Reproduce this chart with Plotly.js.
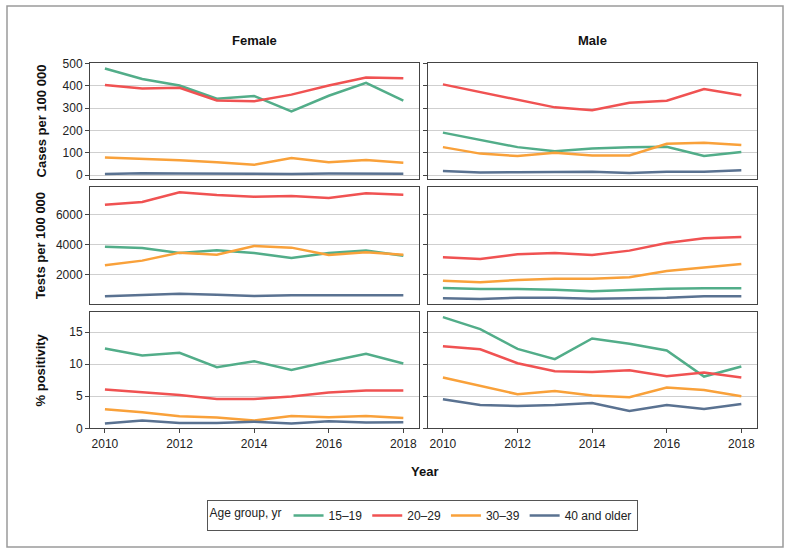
<!DOCTYPE html>
<html>
<head>
<meta charset="utf-8">
<script src="https://cdn.plot.ly/plotly-3.0.1.min.js"></script>
<style>html,body{margin:0;padding:0;background:#fff;}#chart{width:791px;height:554px;}</style>
</head>
<body>
<div id="chart"></div>
<script>
// ---- Data ----
const years = [2010, 2011, 2012, 2013, 2014, 2015, 2016, 2017, 2018];
const ageGroups = ["15\u201319", "20\u201329", "30\u201339", "40 and older"];
const sexes = ["Female", "Male"];
const measures = ["Cases per 100 000", "Tests per 100 000", "% positivity"];
const xTickVals = [2010, 2012, 2014, 2016, 2018];

// Cases per 100 000
const casesFemale15 = [477, 430, 401, 342, 354, 285, 355, 413, 333];
const casesFemale20 = [403, 388, 391, 334, 330, 360, 401, 437, 433];
const casesFemale30 = [79, 73, 66, 57, 46, 76, 57, 67, 55];
const casesFemale40 = [5, 8, 7, 6, 6, 5, 7, 6, 6];
const casesMale15 = [190, 158, 125, 107, 119, 125, 127, 85, 103];
const casesMale20 = [406, 372, 336, 303, 290, 324, 333, 385, 357];
const casesMale30 = [125, 96, 85, 100, 87, 88, 140, 145, 134];
const casesMale40 = [18, 12, 13, 15, 15, 9, 15, 15, 21];

// Tests per 100 000
const testsFemale15 = [3844, 3756, 3422, 3600, 3422, 3089, 3422, 3578, 3244];
const testsFemale20 = [6644, 6822, 7467, 7289, 7178, 7222, 7089, 7400, 7311];
const testsFemale30 = [2600, 2911, 3444, 3311, 3889, 3778, 3289, 3467, 3311];
const testsFemale40 = [533, 622, 711, 644, 556, 600, 600, 644, 600];
const testsMale15 = [1089, 1022, 1022, 978, 867, 956, 1044, 1067, 1067];
const testsMale20 = [3133, 3022, 3333, 3422, 3289, 3578, 4089, 4400, 4489];
const testsMale30 = [1578, 1467, 1622, 1711, 1711, 1800, 2222, 2467, 2689];
const testsMale40 = [400, 356, 444, 444, 378, 400, 444, 533, 533];

// % positivity
const posFemale15 = [12.45, 11.35, 11.77, 9.53, 10.47, 9.11, 10.42, 11.61, 10.1];
const posFemale20 = [6.04, 5.68, 5.21, 4.58, 4.58, 4.95, 5.57, 5.89, 5.89];
const posFemale30 = [2.97, 2.5, 1.88, 1.67, 1.2, 1.93, 1.72, 1.93, 1.61];
const posFemale40 = [0.73, 1.2, 0.83, 0.83, 1.04, 0.73, 1.09, 0.89, 0.94];
const posMale15 = [17.34, 15.47, 12.4, 10.78, 14.01, 13.18, 12.14, 8.07, 9.64];
const posMale20 = [12.81, 12.34, 10.16, 8.91, 8.8, 9.06, 8.13, 8.7, 7.92];
const posMale30 = [7.92, 6.61, 5.31, 5.83, 5.1, 4.84, 6.35, 5.99, 5.0];
const posMale40 = [4.53, 3.65, 3.49, 3.65, 3.96, 2.71, 3.65, 3.02, 3.8];

const casesTicks = [0, 100, 200, 300, 400, 500];
const testsTicks = [2000, 4000, 6000];
const posTicks = [0, 5, 10, 15];

// ---- Styling ----
const colors = ["#52ad89", "#f05252", "#f9a13a", "#5a7291"];
const FONT = "Liberation Sans, Arial, Helvetica, sans-serif";

const panels = [
  [[casesFemale15, casesFemale20, casesFemale30, casesFemale40], "x", "y", true],
  [[casesMale15, casesMale20, casesMale30, casesMale40], "x2", "y2", false],
  [[testsFemale15, testsFemale20, testsFemale30, testsFemale40], "x3", "y3", false],
  [[testsMale15, testsMale20, testsMale30, testsMale40], "x4", "y4", false],
  [[posFemale15, posFemale20, posFemale30, posFemale40], "x5", "y5", false],
  [[posMale15, posMale20, posMale30, posMale40], "x6", "y6", false]
];

const traces = [];
panels.forEach(([series, xa, ya, leg]) => {
  series.forEach((vals, i) => {
    traces.push({
      type: "scatter", mode: "lines",
      x: years, y: vals,
      xaxis: xa, yaxis: ya,
      name: ageGroups[i],
      legendgroup: ageGroups[i],
      showlegend: leg,
      line: {color: colors[i], width: 2.5},
      hoverinfo: "x+y+name"
    });
  });
});

const W = 791, H = 554;
const px = (a, b) => [a / W, b / W];
const py = (top, bottom) => [1 - bottom / H, 1 - top / H];
const colDom = [px(90, 419), px(428, 757)];
const rowDom = [py(62.7, 179.3), py(187.3, 304), py(312.3, 428.3)];

const xRange = [2009.6, 2018.42];
const yRanges = [[-19, 503], [20, 7800], [0, 18.1]];
const yTicks = [casesTicks, testsTicks, posTicks];
const standoffs = [13, 7, 20];

const layout = {
  width: W, height: H,
  margin: {l: 0, r: 0, t: 0, b: 0},
  paper_bgcolor: "#ffffff",
  plot_bgcolor: "#ffffff",
  font: {family: FONT, size: 12, color: "#222"},
  showlegend: true,
  legend: {
    orientation: "h",
    x: 422 / W, xanchor: "center",
    y: 1 - 500 / H, yanchor: "top",
    title: {text: "Age group, yr", side: "left", font: {size: 12, color: "#222"}},
    font: {size: 12, color: "#222"},
    bordercolor: "#555", borderwidth: 1,
    bgcolor: "#ffffff",
    itemwidth: 30,
    tracegroupgap: 0
  },
  annotations: [
    {text: "<b>" + sexes[0] + "</b>", xref: "paper", yref: "paper", x: (90 + 419) / 2 / W, y: 1 - 40 / H,
     showarrow: false, font: {size: 13, color: "#111"}, xanchor: "center", yanchor: "middle"},
    {text: "<b>" + sexes[1] + "</b>", xref: "paper", yref: "paper", x: (428 + 757) / 2 / W, y: 1 - 40 / H,
     showarrow: false, font: {size: 13, color: "#111"}, xanchor: "center", yanchor: "middle"},
    {text: "<b>Year</b>", xref: "paper", yref: "paper", x: 424 / W, y: 1 - 471 / H,
     showarrow: false, font: {size: 13, color: "#111"}, xanchor: "center", yanchor: "middle"}
  ],
  shapes: [
    {type: "rect", xref: "paper", yref: "paper", x0: 7 / W, x1: 783 / W, y0: 1 - 547 / H, y1: 1 - 6 / H,
     line: {color: "#9a9a9a", width: 1.5}, fillcolor: "rgba(0,0,0,0)", layer: "below"}
  ]
};

for (let r = 0; r < 3; r++) {
  for (let c = 0; c < 2; c++) {
    const idx = r * 2 + c + 1;
    const xk = idx === 1 ? "xaxis" : "xaxis" + idx;
    const yk = idx === 1 ? "yaxis" : "yaxis" + idx;
    const bottom = r === 2;
    layout[xk] = {
      domain: colDom[c],
      anchor: idx === 1 ? "y" : "y" + idx,
      range: xRange,
      tickvals: xTickVals,
      ticktext: xTickVals.map(String),
      showticklabels: bottom,
      ticks: bottom ? "outside" : "",
      ticklen: 4, tickcolor: "#444",
      showgrid: false, zeroline: false,
      showline: true, linecolor: "#444", linewidth: 1, mirror: true,
      tickfont: {size: 12, color: "#222"},
      fixedrange: true
    };
    layout[yk] = {
      domain: rowDom[r],
      anchor: idx === 1 ? "x" : "x" + idx,
      range: yRanges[r],
      tickvals: yTicks[r],
      ticktext: yTicks[r].map(String),
      showticklabels: c === 0,
      ticks: "outside", ticklen: 4, tickcolor: "#444",
      showgrid: true, gridcolor: "#cfcfcf", gridwidth: 1,
      zeroline: false,
      showline: true, linecolor: "#444", linewidth: 1, mirror: true,
      tickfont: {size: 12, color: "#222"},
      fixedrange: true
    };
    if (c === 0) {
      layout[yk].title = {text: "<b>" + measures[r] + "</b>", font: {size: 13, color: "#111"}, standoff: standoffs[r]};
    }
  }
}

Plotly.newPlot("chart", traces, layout, {displayModeBar: false});
</script>
</body>
</html>
